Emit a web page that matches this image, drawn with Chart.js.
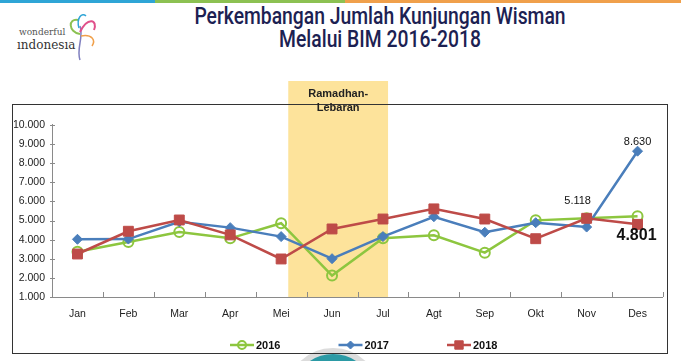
<!DOCTYPE html>
<html>
<head>
<meta charset="utf-8">
<script src="https://cdn.jsdelivr.net/npm/chart.js@4.4.1/dist/chart.umd.min.js"></script>
<style>
  html, body { margin: 0; padding: 0; background: #fff; overflow: hidden; }
  #wrap { position: relative; width: 681px; height: 361px; }
  #stripe { position: absolute; left: 0; top: 0; width: 681px; height: 3px;
    background: linear-gradient(to right, #2fa5d6 0, #2fa5d6 155px, #8cc152 155px, #8cc152 345px, #f0a04b 345px); }
  #title { position: absolute; left: 150px; width: 460px; top: 5px; text-align: center;
    font-family: Roboto, "DejaVu Sans Condensed", sans-serif; font-weight: 500; font-size: 23px;
    line-height: 23px; color: #1c2152; transform: scaleX(0.84); transform-origin: 230px 0; }
  .logo1 { position: absolute; left: 19px; top: 27px; font-family: "DejaVu Serif", serif; font-size: 9px; color: #555; }
  .logo2 { position: absolute; left: 17px; top: 38px; font-family: "DejaVu Serif", serif; font-size: 12px; color: #333; }
  #swirl { position: absolute; left: 66px; top: 10px; }
  #badge { position: absolute; left: 286px; top: 348px; width: 94px; height: 94px; border-radius: 50%;
    background: #2b9aa5; border: 6px solid #dcdcdc; box-sizing: border-box; }
  canvas { position: absolute; left: 0; top: 0; }
</style>
</head>
<body>
<div id="wrap">
  <div id="stripe"></div>
  <div class="logo1">wonderful</div>
  <div class="logo2">ındonesıa</div>
  <svg id="swirl" width="34" height="52" viewBox="0 0 34 52">
    <path d="M14 50 C 10 38, 18 28, 14 16" stroke="#7f7fbf" stroke-width="1.5" fill="none"/>
    <path d="M14 24 C 2 22, 2 8, 12 10" stroke="#8cc152" stroke-width="2" fill="none"/>
    <path d="M14 22 C 22 6, 32 10, 28 20" stroke="#e0508a" stroke-width="2" fill="none"/>
    <path d="M15 26 C 26 24, 30 30, 26 36" stroke="#f0a04b" stroke-width="1.5" fill="none"/>
    <path d="M13 18 C 10 8, 16 2, 20 6" stroke="#2fa5d6" stroke-width="1.5" fill="none"/>
  </svg>
  <div id="title">Perkembangan Jumlah Kunjungan Wisman<br>Melalui BIM 2016-2018</div>
  <div id="badge"></div>
  <canvas id="chartWisman" width="681" height="361"></canvas>
</div>
<script>
const bulan = ["Jan", "Feb", "Mar", "Apr", "Mei", "Jun", "Jul", "Agt", "Sep", "Okt", "Nov", "Des"];
const data2016 = [3370, 3880, 4400, 4070, 4860, 2120, 4070, 4230, 3320, 5010, 5120, 5225];
const data2017 = [4020, 4030, 4940, 4630, 4160, 3005, 4160, 5200, 4390, 4890, 4660, 8630];
const data2018 = [3250, 4440, 5030, 4250, 2990, 4560, 5080, 5610, 5080, 4050, 5118, 4801];
const ramadhanDari = 4.14;   // posisi pita Ramadhan-Lebaran (indeks kategori)
const ramadhanSampai = 6.1;
// label angka yang ditampilkan di grafik: [dataset, indeks]
const labelAngka = [
  { ds: 1, idx: 11, text: "8.630", bold: false },
  { ds: 2, idx: 10, text: "5.118", bold: false },
  { ds: 2, idx: 11, text: "4.801", bold: true },
];

function formatRibuan(v) {
  return String(v).replace(/\B(?=(\d{3})+(?!\d))/g, ".");
}

const FONT = '"Liberation Sans", Arial, sans-serif';

// pita kuning, kotak luar, sumbu dan tick
const dekorPlugin = {
  id: "dekor",
  beforeDatasetsDraw(chart) {
    const ctx = chart.ctx;
    const xs = chart.scales.x;
    const ys = chart.scales.y;
    const area = chart.chartArea;
    const step = xs.getPixelForValue(1) - xs.getPixelForValue(0);
    const x0 = xs.getPixelForValue(0) + ramadhanDari * step;
    const x1 = xs.getPixelForValue(0) + ramadhanSampai * step;
    ctx.save();
    ctx.fillStyle = "#fde39b";
    ctx.fillRect(x0, 81, x1 - x0, area.bottom - 81);

    // kotak luar
    ctx.strokeStyle = "#333";
    ctx.lineWidth = 1;
    ctx.strokeRect(12.5, 104.5, 655, 249);

    // sumbu
    ctx.strokeStyle = "#8a8a8a";
    ctx.beginPath();
    ctx.moveTo(Math.round(area.left) + 0.5, area.top - 1);
    ctx.lineTo(Math.round(area.left) + 0.5, Math.round(area.bottom) + 0.5);
    ctx.lineTo(area.right, Math.round(area.bottom) + 0.5);
    ctx.stroke();
    ctx.beginPath();
    for (let i = 0; i <= bulan.length; i++) {
      const x = Math.round(xs.getPixelForValue(0) - step / 2 + i * step) + 0.5;
      ctx.moveTo(x, area.bottom);
      ctx.lineTo(x, area.bottom - 5);
    }
    ys.ticks.forEach((t) => {
      const y = Math.round(ys.getPixelForValue(t.value)) + 0.5;
      ctx.moveTo(area.left - 2, y);
      ctx.lineTo(area.left + 3, y);
    });
    ctx.stroke();

    // teks Ramadhan-Lebaran
    ctx.fillStyle = "#222";
    ctx.font = "bold 11px " + FONT;
    ctx.textAlign = "center";
    ctx.textBaseline = "middle";
    ctx.fillText("Ramadhan-", (x0 + x1) / 2, 94);
    ctx.fillText("Lebaran", (x0 + x1) / 2, 108);
    ctx.restore();
  },
  afterDatasetsDraw(chart) {
    const ctx = chart.ctx;
    ctx.save();
    ctx.fillStyle = "#111";
    labelAngka.forEach((l) => {
      const el = chart.getDatasetMeta(l.ds).data[l.idx];
      ctx.textAlign = "center";
      ctx.textBaseline = "middle";
      if (l.bold) {
        ctx.font = "bold 16px " + FONT;
        ctx.fillText(l.text, el.x - 1, el.y + 11);
      } else {
        ctx.font = "11px " + FONT;
        ctx.fillText(l.text, el.x + (l.idx === 10 ? -9 : 0), el.y - (l.idx === 10 ? 17 : 9));
      }
    });

    // legenda di bawah
    chart.data.datasets.forEach((ds, i) => {
      const lx = 230 + i * 108.5;
      const ly = 345;
      ctx.strokeStyle = ds.borderColor;
      ctx.lineWidth = 2.5;
      ctx.beginPath();
      ctx.moveTo(lx, ly);
      ctx.lineTo(lx + 24, ly);
      ctx.stroke();
      ctx.fillStyle = ds.pointBackgroundColor;
      ctx.lineWidth = ds.pointBorderWidth;
      const r = ds.pointRadius * 0.8;
      const cx = lx + 12;
      ctx.beginPath();
      if (ds.pointStyle === "circle") {
        ctx.arc(cx, ly, r, 0, Math.PI * 2);
      } else if (ds.pointStyle === "rectRot") {
        ctx.moveTo(cx, ly - r); ctx.lineTo(cx + r, ly); ctx.lineTo(cx, ly + r); ctx.lineTo(cx - r, ly); ctx.closePath();
      } else {
        ctx.rect(cx - r * 0.75, ly - r * 0.75, r * 1.5, r * 1.5);
      }
      ctx.fill();
      ctx.stroke();
      ctx.fillStyle = "#111";
      ctx.font = "bold 11px " + FONT;
      ctx.textAlign = "left";
      ctx.textBaseline = "middle";
      ctx.fillText(ds.label, lx + 26, ly + 1);
    });
    ctx.restore();
  },
};

new Chart(document.getElementById("chartWisman"), {
  type: "line",
  data: {
    labels: bulan,
    datasets: [
      {
        label: "2016", data: data2016, order: 3,
        borderColor: "#8dc63f", borderWidth: 2.5, tension: 0,
        pointStyle: "circle", pointRadius: 5, pointBorderWidth: 2,
        pointBackgroundColor: "rgba(255,255,255,0)", pointBorderColor: "#8dc63f",
      },
      {
        label: "2017", data: data2017, order: 2,
        borderColor: "#4a7ebb", borderWidth: 2.5, tension: 0,
        pointStyle: "rectRot", pointRadius: 5, pointBorderWidth: 1,
        pointBackgroundColor: "#4a7ebb", pointBorderColor: "#4a7ebb",
      },
      {
        label: "2018", data: data2018, order: 1,
        borderColor: "#be4b48", borderWidth: 2.5, tension: 0,
        pointStyle: "rect", pointRadius: 7, pointBorderWidth: 1,
        pointBackgroundColor: "#be4b48", pointBorderColor: "#be4b48",
      },
    ],
  },
  options: {
    responsive: false,
    animation: false,
    layout: { padding: { left: 14, right: 18, top: 125, bottom: 0 } },
    plugins: {
      legend: { display: false },
      tooltip: { enabled: false },
    },
    scales: {
      x: {
        offset: true,
        grid: { display: false, drawTicks: false },
        border: { display: false },
        ticks: { color: "#222", font: { family: FONT, size: 10.5 }, padding: 11, maxRotation: 0 },
        afterFit(scale) { scale.height = 64; },
      },
      y: {
        min: 1000,
        max: 10000,
        grid: { display: false, drawTicks: false },
        border: { display: false },
        ticks: {
          stepSize: 1000,
          color: "#222",
          font: { family: FONT, size: 10.5 },
          padding: 7,
          callback: (v) => formatRibuan(v),
        },
        afterFit(scale) { scale.width = 38; },
      },
    },
  },
  plugins: [dekorPlugin],
});
</script>
</body>
</html>
